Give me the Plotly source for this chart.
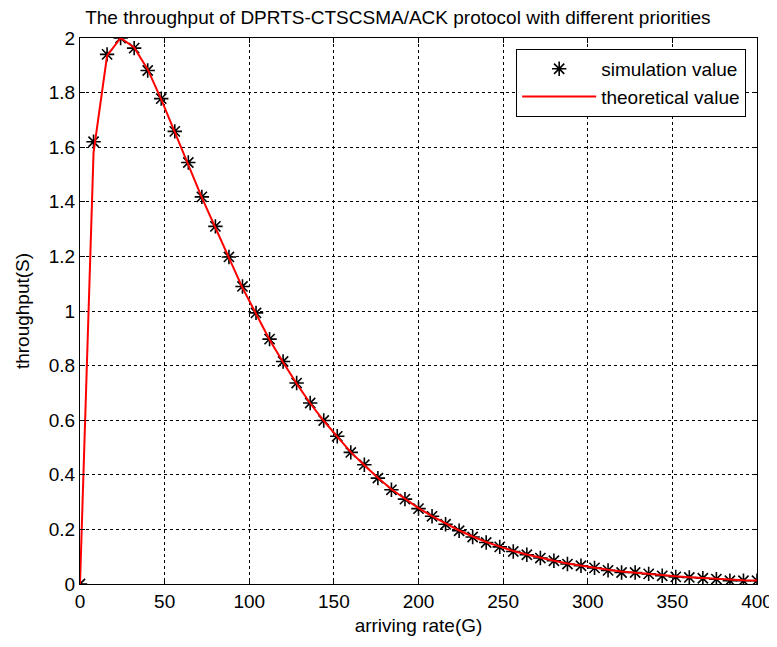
import plotly.graph_objects as go

G = [0, 8, 16, 24, 32, 40, 48, 56, 64, 72, 80, 88, 96, 104, 112, 120, 128, 136, 144, 152,
     160, 168, 176, 184, 192, 200, 208, 216, 224, 232, 240, 248, 256, 264, 272, 280, 288,
     296, 304, 312, 320, 328, 336, 344, 352, 360, 368, 376, 384, 392, 400]
S_sim = [0, 1.62, 1.94, 2.00, 1.963, 1.881, 1.778, 1.658, 1.544, 1.418, 1.31, 1.198, 1.09,
         0.993, 0.897, 0.815, 0.736, 0.663, 0.599, 0.541, 0.482, 0.437, 0.388, 0.345, 0.311,
         0.276, 0.248, 0.219, 0.195, 0.172, 0.152, 0.136, 0.119, 0.107, 0.095, 0.085, 0.073,
         0.067, 0.059, 0.050, 0.042, 0.042, 0.037, 0.030, 0.026, 0.024, 0.021, 0.018, 0.012,
         0.012, 0.012]
S_theory = [0, 1.58, 1.935, 2.00, 1.965, 1.885, 1.775, 1.655, 1.54, 1.415, 1.305, 1.195, 1.085,
            0.99, 0.895, 0.812, 0.734, 0.662, 0.598, 0.54, 0.483, 0.435, 0.389, 0.347, 0.311,
            0.278, 0.249, 0.221, 0.196, 0.174, 0.154, 0.137, 0.121, 0.108, 0.096, 0.085, 0.075,
            0.067, 0.059, 0.052, 0.046, 0.041, 0.036, 0.032, 0.028, 0.025, 0.022, 0.019, 0.016,
            0.014, 0.013]

x_ticks = [0, 50, 100, 150, 200, 250, 300, 350, 400]
y_ticks = [0, 0.2, 0.4, 0.6, 0.8, 1, 1.2, 1.4, 1.6, 1.8, 2]
y_tick_labels = ["0", "0.2", "0.4", "0.6", "0.8", "1", "1.2", "1.4", "1.6", "1.8", "2"]

FONT = "Liberation Sans, Arial, sans-serif"
FS = 19

fig = go.Figure()
fig.add_trace(go.Scatter(
    x=G, y=S_sim, mode="markers", name="simulation value",
    marker=dict(symbol="asterisk-open", size=12, color="black",
                line=dict(color="black", width=1.6)),
))
fig.add_trace(go.Scatter(
    x=G, y=S_theory, mode="lines", name="theoretical value",
    line=dict(color="red", width=2),
))

axis_common = dict(
    showline=True, linecolor="black", linewidth=1, mirror="ticks",
    ticks="inside", ticklen=5, tickcolor="black",
    showgrid=True, gridcolor="black", gridwidth=1, griddash="dot",
    zeroline=False, automargin=False,
    tickfont=dict(family=FONT, size=FS, color="black"),
)

# page body has an 8px default margin, so the figure is offset by 8px
fig.update_layout(
    width=769, height=639,
    paper_bgcolor="white", plot_bgcolor="white",
    margin=dict(l=72, r=20, t=30, b=63),
    font=dict(family=FONT, color="black"),
    title=dict(text="The throughput of DPRTS-CTSCSMA/ACK protocol with different priorities",
               xref="container", x=0.507, xanchor="center",
               yref="container", y=0.986, yanchor="middle",
               font=dict(family=FONT, size=FS, color="black")),
    xaxis=dict(range=[0, 400], tickvals=x_ticks,
               title=dict(text="arriving rate(G)", font=dict(family=FONT, size=FS), standoff=7),
               **axis_common),
    yaxis=dict(range=[0, 2], tickvals=y_ticks, ticktext=y_tick_labels,
               title=dict(text="throughput(S)", font=dict(family=FONT, size=FS), standoff=14),
               **axis_common),
    legend=dict(x=0.984, y=0.98, xanchor="right", yanchor="top",
                bgcolor="white", bordercolor="black", borderwidth=1,
                font=dict(family=FONT, size=FS, color="black"),
                itemwidth=74, tracegroupgap=0),
    showlegend=True,
)

fig.write_html("out.html")
